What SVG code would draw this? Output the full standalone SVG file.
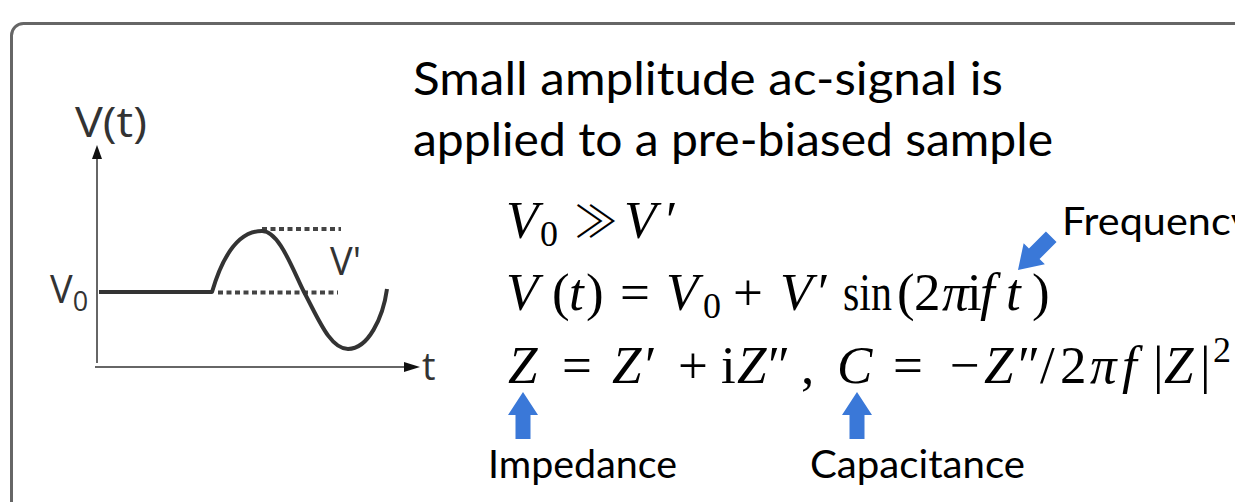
<svg xmlns="http://www.w3.org/2000/svg" width="1235" height="502" viewBox="0 0 1235 502">
<style>
.sans{font-family:Lato,"Open Sans","Noto Sans",sans-serif;fill:#000}
.gsans{font-family:"Open Sans","Noto Sans",sans-serif;fill:#333}
.m{font-family:"Liberation Serif","DejaVu Serif",serif;font-size:53px;fill:#000}
.it{font-style:italic}
.sub{font-size:36px;font-style:normal}
.gg{font-family:"Noto Sans CJK SC","DejaVu Sans",sans-serif;font-weight:300;font-size:44px}
.axis{stroke:#666;stroke-width:2;fill:none}
.head{fill:#111}
.sig{stroke:#333;stroke-width:4;fill:none;stroke-linejoin:round}
.dot{stroke:#444;stroke-width:4;stroke-dasharray:5 3.5;fill:none}
.blue{fill:#3a78d8}
</style>
<defs>
<path id="barrow" d="M0,0 L15,23 L7.5,23 L7.5,47 L-7.5,47 L-7.5,23 L-15,23 Z"/>
</defs>
<g id="frame">
<rect x="11.5" y="23.5" width="1300" height="560" rx="12" ry="12" fill="none" stroke="#666" stroke-width="3"/>
</g>
<g id="plot">
<line class="axis" x1="97" y1="363" x2="97" y2="158"/>
<polygon class="head" points="97,145 102,159 92,159"/>
<line class="axis" x1="95" y1="367" x2="405" y2="367"/>
<polygon class="head" points="420,367 404,362 404,372"/>
<text class="gsans" x="75" y="137" font-size="42" textLength="72" lengthAdjust="spacingAndGlyphs">V(t)</text>
<text class="gsans" x="50" y="303" font-size="38" fill="#222">V<tspan font-size="27" dy="8">0</tspan></text>
<text class="gsans" x="330" y="275" font-size="38">V'</text>
<text class="gsans" x="422" y="380" font-size="38">t</text>
<line class="dot" x1="262" y1="229" x2="341" y2="229"/>
<line class="dot" x1="218" y1="292.5" x2="338" y2="292.5"/>
<path class="sig" d="M99,292 L212,292 C222,258 238,231 262,231 C279,231 292,268 304,292 C318,318 330,349 348,349 C368,349 383,318 387,289"/>
</g>
<g id="title">
<text class="sans" x="413" y="95" font-size="46" textLength="590" lengthAdjust="spacingAndGlyphs">Small amplitude ac-signal is</text>
<text class="sans" x="413" y="156" font-size="46" textLength="640" lengthAdjust="spacingAndGlyphs">applied to a pre-biased sample</text>
</g>
<g id="equations">
<text class="m" y="238"><tspan class="it" x="506">V</tspan><tspan class="sub" x="540" y="246">0</tspan><tspan class="gg" x="574" y="238">≫</tspan><tspan class="it" x="624">V</tspan><tspan x="666">′</tspan></text>
<text class="m" y="310"><tspan class="it" x="506">V</tspan><tspan x="552">(</tspan><tspan class="it" x="569">t</tspan><tspan x="586">)</tspan><tspan x="620">=</tspan><tspan class="it" x="666">V</tspan><tspan class="sub" x="703" y="318">0</tspan><tspan x="733" y="310">+</tspan><tspan class="it" x="780">V</tspan><tspan x="818">′</tspan></text>
<text class="m" x="843" y="310" textLength="49" lengthAdjust="spacingAndGlyphs">sin</text>
<text class="m" y="310"><tspan x="897">(</tspan><tspan x="914">2</tspan><tspan class="it" x="942">π</tspan><tspan x="967">i</tspan><tspan class="it" x="980">f</tspan><tspan class="it" x="1006">t</tspan><tspan x="1032">)</tspan></text>
<text class="m" y="383"><tspan class="it" x="508">Z</tspan><tspan x="562">=</tspan><tspan class="it" x="612">Z</tspan><tspan x="645">′</tspan><tspan x="678">+</tspan><tspan x="721">i</tspan><tspan class="it" x="737">Z</tspan><tspan x="768">″</tspan><tspan x="801">,</tspan><tspan class="it" x="837">C</tspan><tspan x="893">=</tspan><tspan x="950">−</tspan><tspan class="it" x="984">Z</tspan><tspan x="1018">″</tspan><tspan x="1040">/</tspan><tspan x="1060">2</tspan><tspan class="it" x="1090">π</tspan><tspan class="it" x="1122">f</tspan><tspan x="1153">|</tspan><tspan class="it" x="1164">Z</tspan><tspan x="1200">|</tspan><tspan class="sub" x="1213" y="362">2</tspan></text>
</g>
<g id="labels">
<text class="sans" x="488" y="478" font-size="38" textLength="189" lengthAdjust="spacingAndGlyphs">Impedance</text>
<text class="sans" x="810" y="478" font-size="38" textLength="215" lengthAdjust="spacingAndGlyphs">Capacitance</text>
<text class="sans" x="1062" y="235" font-size="38" textLength="190" lengthAdjust="spacingAndGlyphs">Frequency</text>
</g>
<g id="connectors">
<use href="#barrow" class="blue" transform="translate(523,392)"/>
<use href="#barrow" class="blue" transform="translate(857,392)"/>
<use href="#barrow" class="blue" transform="translate(1018,270) rotate(-135)"/>
</g>
</svg>
